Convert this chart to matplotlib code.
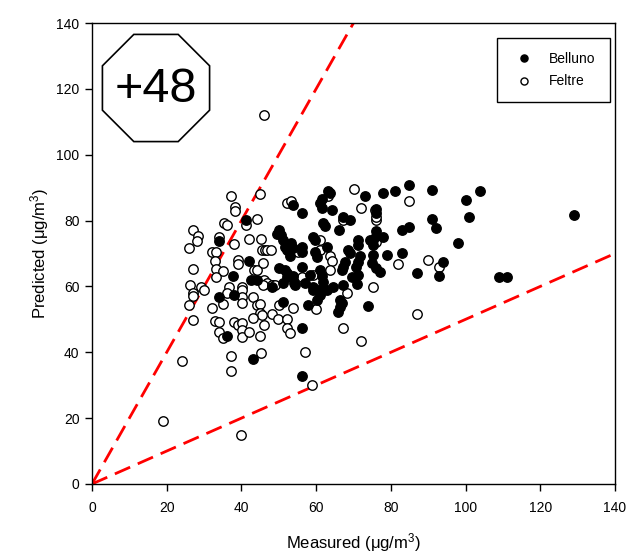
import matplotlib
matplotlib.use("Agg")
import matplotlib.pyplot as plt
from matplotlib.patches import RegularPolygon
from matplotlib.transforms import IdentityTransform
import numpy as np

plt.rcParams['font.family'] = ['Liberation Sans', 'DejaVu Sans']
plt.rcParams['mathtext.fontset'] = 'custom'
plt.rcParams['mathtext.rm'] = 'Liberation Sans'
plt.rcParams['mathtext.default'] = 'regular'

# Belluno (filled)
belluno_x = [42.0, 41.1, 34.1, 37.8, 42.6, 44.2, 34.1, 38.1, 36.2, 43.0,
             53.9, 56.1, 63.3, 63.7, 61.5, 61.0, 61.5, 64.2, 73.1, 67.1,
             69.1, 61.9, 62.4, 66.2, 50.1, 50.5, 51.2, 51.7, 52.1, 53.0,
             49.5, 53.4, 53.9, 56.1, 56.1, 59.2, 59.7, 62.8, 59.7, 60.1,
             68.6, 69.1, 71.3, 71.3, 74.4, 75.1, 50.1, 51.7, 52.1, 53.9,
             56.1, 58.4, 61.0, 61.5, 66.8, 67.3, 67.7, 70.8, 71.3, 71.7,
             74.9, 76.0, 51.2, 54.3, 57.0, 59.2, 64.6, 67.3, 51.2, 56.1,
             56.1, 59.2, 60.6, 61.0, 61.9, 62.8, 60.1, 57.9, 66.4, 66.8,
             66.4, 65.9, 71.0, 74.0, 78.0, 81.1, 84.9, 90.9, 104.0, 76.0,
             76.0, 100.1, 101.0, 90.9, 92.1, 82.9, 84.9, 76.0, 76.0, 75.1,
             78.0, 75.1, 78.9, 82.9, 98.0, 94.0, 93.0, 77.1, 87.1, 109.0,
             111.0, 129.0, 61.9, 71.3, 69.5, 48.1, 52.1, 54.1]
belluno_y = [67.8, 80.2, 73.9, 63.2, 62.0, 62.0, 56.7, 57.4, 44.9, 37.9,
             84.7, 82.4, 89.1, 88.5, 86.5, 85.2, 83.7, 83.2, 87.5, 81.2,
             80.2, 79.2, 78.4, 77.1, 77.1, 75.6, 74.1, 72.1, 71.1, 69.1,
             76.0, 73.1, 71.6, 72.1, 70.5, 75.1, 74.1, 72.1, 70.5, 68.8,
             71.1, 70.0, 74.1, 72.6, 74.1, 72.6, 65.5, 65.0, 64.0, 63.2,
             66.0, 63.5, 65.0, 63.2, 65.0, 66.0, 67.5, 66.0, 67.5, 69.1,
             67.0, 65.5, 60.9, 60.4, 60.9, 59.9, 59.9, 60.4, 55.4, 47.3,
             32.9, 58.9, 58.9, 57.4, 58.9, 58.9, 55.9, 54.4, 55.9, 54.9,
             53.8, 52.3, 60.7, 54.1, 88.3, 89.1, 90.8, 89.3, 89.1, 83.4,
             82.4, 86.2, 81.2, 80.4, 77.6, 77.1, 77.9, 76.9, 75.2, 74.1,
             74.9, 69.5, 69.5, 70.3, 73.1, 67.5, 63.2, 64.5, 64.2, 62.8,
             62.8, 81.8, 61.4, 63.5, 63.0, 59.9, 63.0, 60.9]

# Feltre (open)
feltre_x = [19.0, 24.1, 40.0, 59.0, 46.0, 37.1, 45.0, 38.2, 38.2, 41.1,
            44.1, 35.3, 36.1, 27.1, 28.3, 28.1, 26.0, 34.1, 38.0, 42.1,
            45.2, 32.0, 33.1, 45.4, 46.3, 46.9, 48.0, 39.1, 39.1, 32.8,
            27.1, 33.2, 35.1, 43.4, 44.2, 33.2, 26.2, 29.2, 36.8, 40.1,
            46.2, 27.1, 27.1, 30.1, 26.0, 27.1, 36.1, 35.1, 40.1, 40.1,
            40.1, 32.1, 33.0, 34.1, 34.1, 35.1, 38.0, 39.2, 40.1, 40.1,
            40.1, 42.1, 43.2, 44.1, 45.0, 45.0, 45.4, 43.2, 46.1, 45.0,
            37.1, 37.1, 45.2, 52.1, 53.2, 63.3, 70.2, 72.0, 67.1, 76.0,
            75.7, 61.0, 55.2, 61.0, 63.7, 64.2, 76.0, 45.9, 56.1, 59.2,
            63.7, 46.0, 46.8, 48.5, 45.9, 48.1, 49.0, 50.1, 53.9, 48.1,
            49.9, 52.1, 52.1, 53.0, 57.0, 60.0, 68.2, 67.1, 72.0, 75.1,
            84.9, 76.0, 90.0, 82.0, 93.0, 87.1]
feltre_y = [19.0, 37.3, 15.0, 30.0, 112.0, 87.5, 88.1, 84.2, 83.0, 78.6,
            80.4, 79.4, 78.6, 77.1, 75.4, 73.8, 71.6, 75.1, 72.9, 74.3,
            74.3, 70.5, 70.5, 71.1, 71.1, 71.1, 71.1, 68.0, 66.8, 67.8,
            65.2, 65.2, 64.8, 65.0, 65.0, 62.8, 60.4, 59.9, 59.9, 59.9,
            60.7, 57.9, 57.1, 58.9, 54.4, 49.8, 57.9, 54.7, 58.9, 56.9,
            54.9, 53.3, 49.5, 49.1, 46.1, 44.2, 49.3, 48.3, 48.8, 46.8,
            44.5, 46.3, 56.9, 54.4, 54.6, 51.8, 51.3, 50.4, 48.3, 44.9,
            38.9, 34.3, 39.7, 85.4, 85.8, 87.5, 89.5, 83.7, 80.2, 80.2,
            83.2, 74.1, 70.5, 71.1, 69.1, 67.8, 73.6, 67.0, 63.0, 63.5,
            65.0, 62.0, 60.9, 60.4, 60.4, 60.4, 60.4, 54.4, 53.3, 51.6,
            50.0, 50.0, 47.3, 45.8, 40.0, 53.1, 57.9, 47.3, 43.5, 59.7,
            85.8, 81.0, 68.0, 66.8, 65.8, 51.6]

line_x = [0, 140]
upper_ratio = 2.0
lower_ratio = 0.5

fig = plt.figure(figsize=(6.34, 5.57), dpi=100)
ax = fig.add_axes([0.1451, 0.1311, 0.8249, 0.8276])

ax.plot(line_x, [upper_ratio * v for v in line_x], color='#ff0000', lw=2.0,
        dashes=(6, 3), zorder=1)
ax.plot(line_x, [lower_ratio * v for v in line_x], color='#ff0000', lw=2.0,
        dashes=(6, 3), zorder=1)

ax.plot(feltre_x, feltre_y, 'o', ms=6.8, mfc='white', mec='black', mew=1.0,
        label='Feltre', zorder=2)
ax.plot(belluno_x, belluno_y, 'o', ms=6.8, mfc='black', mec='black', mew=1.0,
        label='Belluno', zorder=3)

ax.set_xlim(0, 140)
ax.set_ylim(0, 140)
ax.set_xticks(np.arange(0, 141, 20))
ax.set_yticks(np.arange(0, 141, 20))
ax.tick_params(direction='out', length=5, width=1, labelsize=10)
ax.tick_params(axis='x', pad=7)
ax.tick_params(axis='y', pad=4)
for s in ax.spines.values():
    s.set_linewidth(1.0)

ax.set_xlabel('Measured (μg/m$^3$)', fontsize=12, labelpad=12)
ax.set_ylabel('Predicted (μg/m$^3$)', fontsize=12, labelpad=4)

h, l = ax.get_legend_handles_labels()
leg = ax.legend([h[1], h[0]], [l[1], l[0]], loc='upper right',
                bbox_to_anchor=(0.990, 0.967), borderaxespad=0, fontsize=10,
                fancybox=False, edgecolor='black', framealpha=1,
                markerscale=0.75, borderpad=1.0, labelspacing=0.6,
                handletextpad=0.8)
leg.get_frame().set_linewidth(1.0)

# octagon badge
octa = RegularPolygon((156, 557 - 88), numVertices=8, radius=58,
                      orientation=np.pi / 8, facecolor='white',
                      edgecolor='black', lw=1.2, transform=IdentityTransform(),
                      clip_on=False, zorder=5)
ax.add_patch(octa)
ax.text(156, 557 - 90, '+48', fontsize=35, ha='center', va='center',
        transform=IdentityTransform(), zorder=6)

fig.savefig('out.png', dpi=100)
